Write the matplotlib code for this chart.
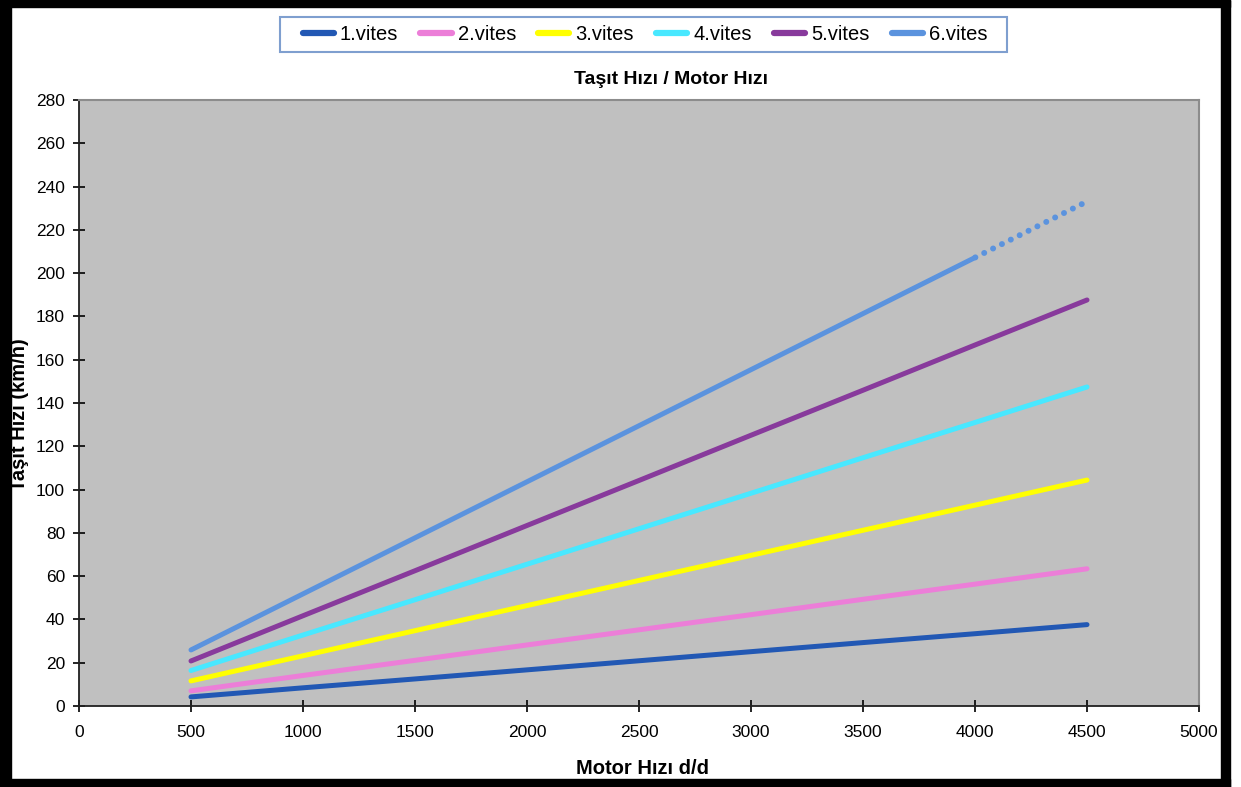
import matplotlib
matplotlib.use("Agg")
import matplotlib.pyplot as plt
from matplotlib.patches import Rectangle
from matplotlib.lines import Line2D

plt.rcParams['font.family'] = ['Liberation Sans', 'DejaVu Sans']

# Engine speed (rpm) and vehicle speed (km/h) per gear
rpm = [500, 1000, 1500, 2000, 2500, 3000, 3500, 4000, 4500]
gear_names = ["1.vites", "2.vites", "3.vites", "4.vites", "5.vites", "6.vites"]
vites1 = [4.2, 8.4, 12.5, 16.7, 20.9, 25.1, 29.3, 33.4, 37.6]
vites2 = [7.0, 14.1, 21.1, 28.2, 35.2, 42.2, 49.3, 56.3, 63.4]
vites3 = [11.6, 23.2, 34.8, 46.4, 58.0, 69.6, 81.2, 92.8, 104.4]
vites4 = [16.4, 32.8, 49.1, 65.5, 81.9, 98.3, 114.7, 131.0, 147.4]
vites5 = [20.8, 41.7, 62.5, 83.4, 104.2, 125.1, 145.9, 166.8, 187.6]
vites6 = [25.9, 51.8, 77.7, 103.6, 129.5, 155.4, 181.3, 207.2, 233.1]
series = [vites1, vites2, vites3, vites4, vites5, vites6]
colors = ["#2258B4", "#EC7ED8", "#FFFF00", "#48E8FF", "#883A9C", "#5B93DE"]

x_ticks = list(range(0, 5001, 500))
y_ticks = list(range(0, 281, 20))

W, H = 1241, 787
fig = plt.figure(figsize=(12.41, 7.87), dpi=100)
fig.patch.set_facecolor("white")
ax = fig.add_axes([79 / W, 1 - 706 / H, 1120 / W, 606 / H])
ax.set_facecolor("#C0C0C0")

lw = 3.6
for name, vals, c in zip(gear_names, series, colors):
    if name == "6.vites":
        # last segment shown dotted
        ax.plot(rpm[:-1], vals[:-1], color=c, lw=lw, solid_capstyle="round")
        ax.plot(rpm[-2:], vals[-2:], color=c, lw=4.3,
                linestyle=(1.6, (0.01, 1.65)), dash_capstyle="round")
    else:
        ax.plot(rpm, vals, color=c, lw=lw, solid_capstyle="round")

ax.set_xlim(0, 5000)
ax.set_ylim(0, 280)
ax.set_xticks(x_ticks)
ax.set_yticks(y_ticks)
ax.tick_params(axis="both", direction="inout", length=8, width=1.2,
               color="black", labelsize=12.5, labelcolor="black")
ax.tick_params(axis="x", pad=10)
ax.tick_params(axis="y", pad=6)

for side in ["left", "bottom"]:
    ax.spines[side].set_color("#202020")
    ax.spines[side].set_linewidth(1.3)
for side in ["top", "right"]:
    ax.spines[side].set_color("#8C8C8C")
    ax.spines[side].set_linewidth(1.5)

fig.text(671 / W, 1 - 80 / H, "Taşıt Hızı / Motor Hızı",
         ha="center", va="center", fontsize=14, fontweight="bold")
fig.text(643 / W, 1 - 768 / H, "Motor Hızı d/d",
         ha="center", va="center", fontsize=14.5, fontweight="bold")
fig.text(20 / W, 1 - 415 / H, "Taşıt Hızı (km/h)", rotation=90,
         ha="center", va="center", fontsize=14.5, fontweight="bold")

# legend box
fig.patches.append(Rectangle((280 / W, 1 - 52 / H), 727 / W, 35 / H,
                             transform=fig.transFigure, facecolor="white",
                             edgecolor="#7F9FCF", linewidth=1.5, zorder=5))
handles = [Line2D([0], [0], color=c, lw=4.5, solid_capstyle="round") for c in colors]
leg = fig.legend(handles, gear_names, loc="center",
                 bbox_to_anchor=(645 / W, 1 - 34.5 / H), ncol=6,
                 fontsize=14.5, frameon=False,
                 handlelength=1.55, handletextpad=0.3, columnspacing=1.1,
                 borderpad=0.35, borderaxespad=0)
leg.set_zorder(6)

# dark frame around the chart
for (x0, y0, w, h) in [(0, 779, 1230, 8), (0, 0, 1230, 7),
                       (0, 0, 11, 787), (1221, 0, 9, 787)]:
    fig.patches.append(Rectangle((x0 / W, 1 - (y0 + h) / H), w / W, h / H,
                                 transform=fig.transFigure, color="black",
                                 zorder=10))

fig.savefig("out.png", dpi=100, facecolor=fig.get_facecolor())
